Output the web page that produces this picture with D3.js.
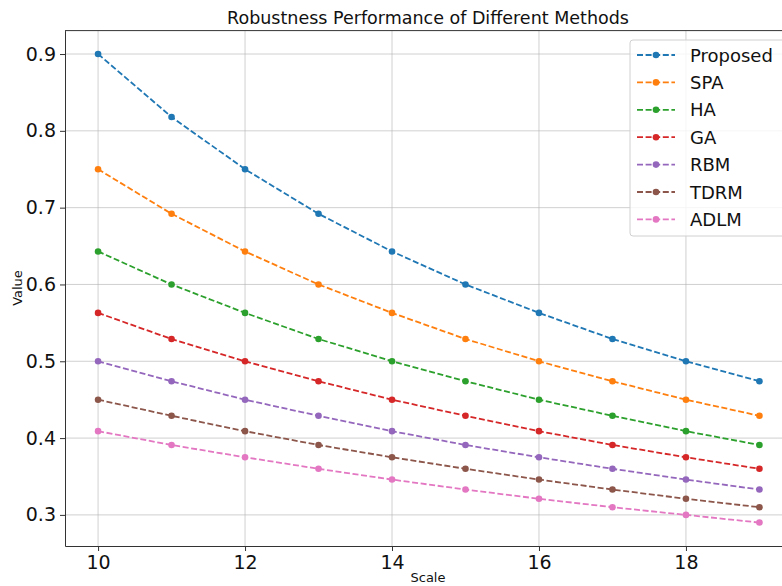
<!DOCTYPE html>
<html>
<head>
<meta charset="utf-8">
<script src="https://cdn.jsdelivr.net/npm/d3@7"></script>
<style>
  body { margin: 0; background: #fff; }
  svg { font-family: "DejaVu Sans", sans-serif; }
</style>
</head>
<body>
<div id="chart"></div>
<script>
// Robustness line chart, matplotlib-like look

var scales = [10, 11, 12, 13, 14, 15, 16, 17, 18, 19];
var methods = ["Proposed", "SPA", "HA", "GA", "RBM", "TDRM", "ADLM"];
var proposed = [0.900, 0.818, 0.750, 0.692, 0.643, 0.600, 0.563, 0.529, 0.500, 0.474];
var spa      = [0.750, 0.692, 0.643, 0.600, 0.563, 0.529, 0.500, 0.474, 0.450, 0.429];
var ha       = [0.643, 0.600, 0.563, 0.529, 0.500, 0.474, 0.450, 0.429, 0.409, 0.391];
var ga       = [0.563, 0.529, 0.500, 0.474, 0.450, 0.429, 0.409, 0.391, 0.375, 0.360];
var rbm      = [0.500, 0.474, 0.450, 0.429, 0.409, 0.391, 0.375, 0.360, 0.346, 0.333];
var tdrm     = [0.450, 0.429, 0.409, 0.391, 0.375, 0.360, 0.346, 0.333, 0.321, 0.310];
var adlm     = [0.409, 0.391, 0.375, 0.360, 0.346, 0.333, 0.321, 0.310, 0.300, 0.290];
var xTicks = [10, 12, 14, 16, 18];
var yTicks = [0.3, 0.4, 0.5, 0.6, 0.7, 0.8, 0.9];

var series = [proposed, spa, ha, ga, rbm, tdrm, adlm];
var colors = ["#1f77b4", "#ff7f0e", "#2ca02c", "#d62728", "#9467bd", "#8c564b", "#e377c2"];

var width = 782, height = 586,
	margin = {top: 30.6, left: 65, right: width - 792.5, bottom: height - 546};

var svg = d3.select("#chart").append("svg")
	.attr("width", width)
	.attr("height", height);

var x = d3.scaleLinear().domain([9.55, 19.45]).range([margin.left, width - margin.right]),
	y = d3.scaleLinear().domain([0.2595, 0.9305]).range([height - margin.bottom, margin.top]);

// grid
svg.append("g").selectAll("line")
	.data(xTicks).enter().append("line")
	.attr("x1", function(d){ return x(d); }).attr("x2", function(d){ return x(d); })
	.attr("y1", margin.top).attr("y2", height - margin.bottom)
	.attr("stroke", "#b0b0b0").attr("stroke-opacity", 0.6).attr("stroke-width", 1);
svg.append("g").selectAll("line")
	.data(yTicks).enter().append("line")
	.attr("x1", margin.left).attr("x2", width - margin.right)
	.attr("y1", function(d){ return y(d); }).attr("y2", function(d){ return y(d); })
	.attr("stroke", "#b0b0b0").attr("stroke-opacity", 0.6).attr("stroke-width", 1);

// axes
svg.append("g")
	.attr("transform", "translate(0," + (height - margin.bottom) + ")")
	.call(d3.axisBottom(x).tickValues(xTicks).tickSize(5).tickSizeOuter(0).tickPadding(5).tickFormat(d3.format("d")))
	.call(function(g){
		g.select(".domain").attr("stroke", "#333").attr("stroke-width", 1);
		g.selectAll(".tick line").attr("stroke", "#333");
		g.selectAll("text").attr("font-size", "19px").attr("fill", "#111").attr("font-family", "DejaVu Sans");
	});
svg.append("g")
	.attr("transform", "translate(" + margin.left + ",0)")
	.call(d3.axisLeft(y).tickValues(yTicks).tickSize(5).tickSizeOuter(0).tickPadding(4).tickFormat(d3.format(".1f")))
	.call(function(g){
		g.select(".domain").attr("stroke", "#333").attr("stroke-width", 1);
		g.selectAll(".tick line").attr("stroke", "#333");
		g.selectAll("text").attr("font-size", "19px").attr("fill", "#111").attr("font-family", "DejaVu Sans");
	});
// top spine
svg.append("line")
	.attr("x1", margin.left).attr("x2", width - margin.right)
	.attr("y1", margin.top).attr("y2", margin.top)
	.attr("stroke", "#333").attr("stroke-width", 1);

// lines
var line = d3.line()
	.x(function(d, i){ return x(scales[i]); })
	.y(function(d){ return y(d); });

series.forEach(function(s, k){
	svg.append("path")
		.datum(s)
		.attr("d", line)
		.attr("fill", "none")
		.attr("stroke", colors[k])
		.attr("stroke-width", 1.8)
		.attr("stroke-dasharray", "6,2.6");
	svg.append("g").selectAll("circle")
		.data(s).enter().append("circle")
		.attr("cx", function(d, i){ return x(scales[i]); })
		.attr("cy", function(d){ return y(d); })
		.attr("r", 3.3)
		.attr("fill", colors[k]);
});

// title & labels
svg.append("text")
	.attr("x", 428).attr("y", 24)
	.attr("text-anchor", "middle")
	.attr("font-size", "17.5px")
	.attr("fill", "#111")
	.text("Robustness Performance of Different Methods");

svg.append("text")
	.attr("x", 428).attr("y", 582)
	.attr("text-anchor", "middle")
	.attr("font-size", "13px")
	.attr("fill", "#111")
	.text("Scale");

svg.append("text")
	.attr("transform", "translate(22," + 288 + ") rotate(-90)")
	.attr("text-anchor", "middle")
	.attr("font-size", "13px")
	.attr("fill", "#111")
	.text("Value");

// legend
var legend = svg.append("g");
legend.append("rect")
	.attr("x", 630).attr("y", 40)
	.attr("width", 170).attr("height", 196)
	.attr("rx", 3)
	.attr("fill", "#fff").attr("fill-opacity", 0.8)
	.attr("stroke", "#d0d0d0");

methods.forEach(function(m, k){
	var ly = 55 + k * 27.4;
	legend.append("line")
		.attr("x1", 637).attr("x2", 675)
		.attr("y1", ly).attr("y2", ly)
		.attr("stroke", colors[k]).attr("stroke-width", 1.8)
		.attr("stroke-dasharray", "6,2.6");
	legend.append("circle")
		.attr("cx", 656).attr("cy", ly).attr("r", 3.3)
		.attr("fill", colors[k]);
	legend.append("text")
		.attr("x", 690).attr("y", ly + 6.5)
		.attr("font-size", "18px")
		.attr("fill", "#111")
		.text(m);
});
</script>
</body>
</html>
